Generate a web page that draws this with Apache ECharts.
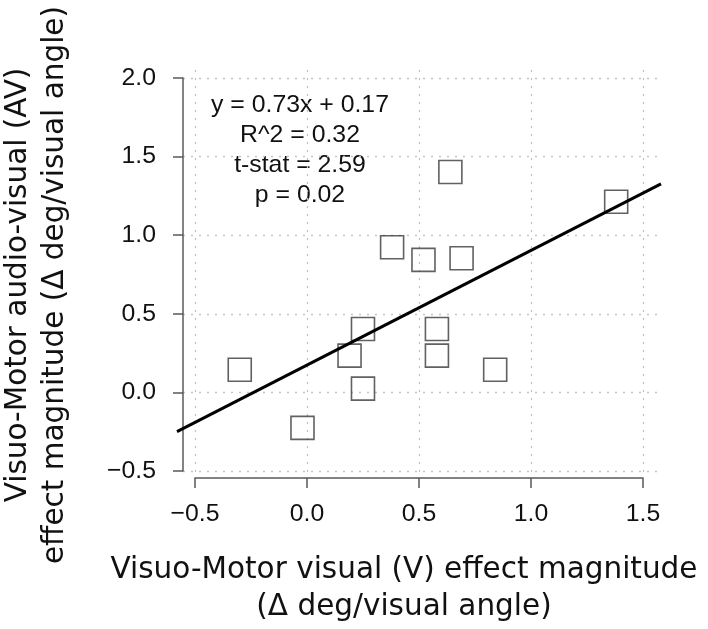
<!DOCTYPE html>
<html>
<head>
<meta charset="utf-8">
<script src="https://cdn.jsdelivr.net/npm/echarts@6/dist/echarts.min.js"></script>
<style>
html,body{margin:0;padding:0;background:#fff;}
#chart{width:708px;height:629px;}
</style>
</head>
<body>
<div id="chart"></div>
<script>
// ---- data ----
var xValues = [-0.30, -0.02, 0.19, 0.25, 0.25, 0.38, 0.52, 0.58, 0.58, 0.64, 0.69, 0.84, 1.38];
var yValues = [0.14, -0.23, 0.23, 0.40, 0.02, 0.92, 0.84, 0.40, 0.23, 1.40, 0.85, 0.14, 1.21];
var fitSlope = 0.73;
var fitIntercept = 0.17;
var xTicks = [-0.5, 0.0, 0.5, 1.0, 1.5];
var yTicks = [-0.5, 0.0, 0.5, 1.0, 1.5, 2.0];
var statLines = ['y = 0.73x + 0.17', 'R^2 = 0.32', 't-stat = 2.59', 'p = 0.02'];
var xTitleLines = ['Visuo-Motor visual (V) effect magnitude', '(\u0394 deg/visual angle)'];
var yTitleLines = ['Visuo-Motor audio-visual (AV)', 'effect magnitude (\u0394 deg/visual angle)'];

// plot region (axis limits with R's 4% padding)
var xLo = -0.58, xHi = 1.58, yLo = -0.6, yHi = 2.1;

var points = xValues.map(function (x, i) { return [x, yValues[i]]; });
var fitLine = [[xLo, fitSlope * xLo + fitIntercept], [xHi, fitSlope * xHi + fitIntercept]];

var tickFont = 'Liberation Sans, Arial, sans-serif';
var titleFont = 'DejaVu Sans, sans-serif';
var axisGray = '#5a5a5a';
var gridStyle = { color: '#c4c4c4', width: 1.3, type: [2, 6] };

var graphics = [];
statLines.forEach(function (t, i) {
  graphics.push({
    type: 'text', x: 300, y: 105 + i * 30,
    style: { text: t, font: '24.8px ' + tickFont, fill: '#111', align: 'center', verticalAlign: 'middle' }
  });
});
xTitleLines.forEach(function (t, i) {
  graphics.push({
    type: 'text', x: 404, y: 570 + i * 37,
    style: { text: t, font: '29.5px ' + titleFont, fill: '#111', align: 'center', verticalAlign: 'middle' }
  });
});
yTitleLines.forEach(function (t, i) {
  graphics.push({
    type: 'text', x: 18 + i * 37, y: 285, rotation: Math.PI / 2,
    style: { text: t, font: '29.5px ' + titleFont, fill: '#111', align: 'center', verticalAlign: 'middle' }
  });
});

var option = {
  backgroundColor: '#fff',
  animation: false,
  grid: [
    { left: 177, top: 62, width: 484, height: 424, containLabel: false, outerBoundsMode: 'none' },
    { left: 195, top: 70, width: 448, height: 408, containLabel: false, outerBoundsMode: 'none' },
    { left: 183, top: 78, width: 479, height: 393, containLabel: false, outerBoundsMode: 'none' }
  ],
  xAxis: [
    { gridIndex: 0, type: 'value', min: xLo, max: xHi, show: false },
    {
      gridIndex: 1, type: 'value', min: xTicks[0], max: xTicks[xTicks.length - 1], interval: 0.5,
      position: 'bottom', offset: 8,
      axisLine: { show: true, lineStyle: { color: axisGray, width: 1.5 } },
      axisTick: { show: true, length: 10, inside: false, lineStyle: { color: axisGray, width: 1.5 } },
      axisLabel: {
        show: true, margin: 16, fontSize: 24.8, fontFamily: tickFont, color: '#111',
        showMinLabel: true, showMaxLabel: true,
        formatter: function (v) { return (v < 0 ? '\u2212' : '') + Math.abs(v).toFixed(1); }
      },
      splitLine: { show: true, lineStyle: gridStyle }
    },
    { gridIndex: 2, type: 'value', min: 0, max: 1, show: false }
  ],
  yAxis: [
    { gridIndex: 0, type: 'value', min: yLo, max: yHi, show: false },
    { gridIndex: 1, type: 'value', min: 0, max: 1, show: false },
    {
      gridIndex: 2, type: 'value', min: yTicks[0], max: yTicks[yTicks.length - 1], interval: 0.5,
      position: 'left', offset: 6,
      axisLine: { show: true, lineStyle: { color: axisGray, width: 1.5 } },
      axisTick: { show: true, length: 10, inside: false, lineStyle: { color: axisGray, width: 1.5 } },
      axisLabel: {
        show: true, margin: 21, fontSize: 24.8, fontFamily: tickFont, color: '#111',
        showMinLabel: true, showMaxLabel: true,
        formatter: function (v) { return (v < 0 ? '\u2212' : '') + Math.abs(v).toFixed(1); }
      },
      splitLine: { show: true, lineStyle: gridStyle }
    }
  ],
  series: [
    {
      type: 'scatter', xAxisIndex: 0, yAxisIndex: 0, data: points,
      symbol: 'rect', symbolSize: 23,
      itemStyle: { color: 'rgba(255,255,255,0)', borderColor: '#3a3a3a', borderWidth: 1.6 },
      z: 3
    },
    {
      type: 'line', xAxisIndex: 0, yAxisIndex: 0, data: fitLine,
      showSymbol: false, symbol: 'none',
      lineStyle: { color: '#000', width: 3 },
      z: 4
    }
  ],
  graphic: graphics
};

var chart = echarts.init(document.getElementById('chart'), null, { renderer: 'canvas' });
chart.setOption(option);
</script>
</body>
</html>
